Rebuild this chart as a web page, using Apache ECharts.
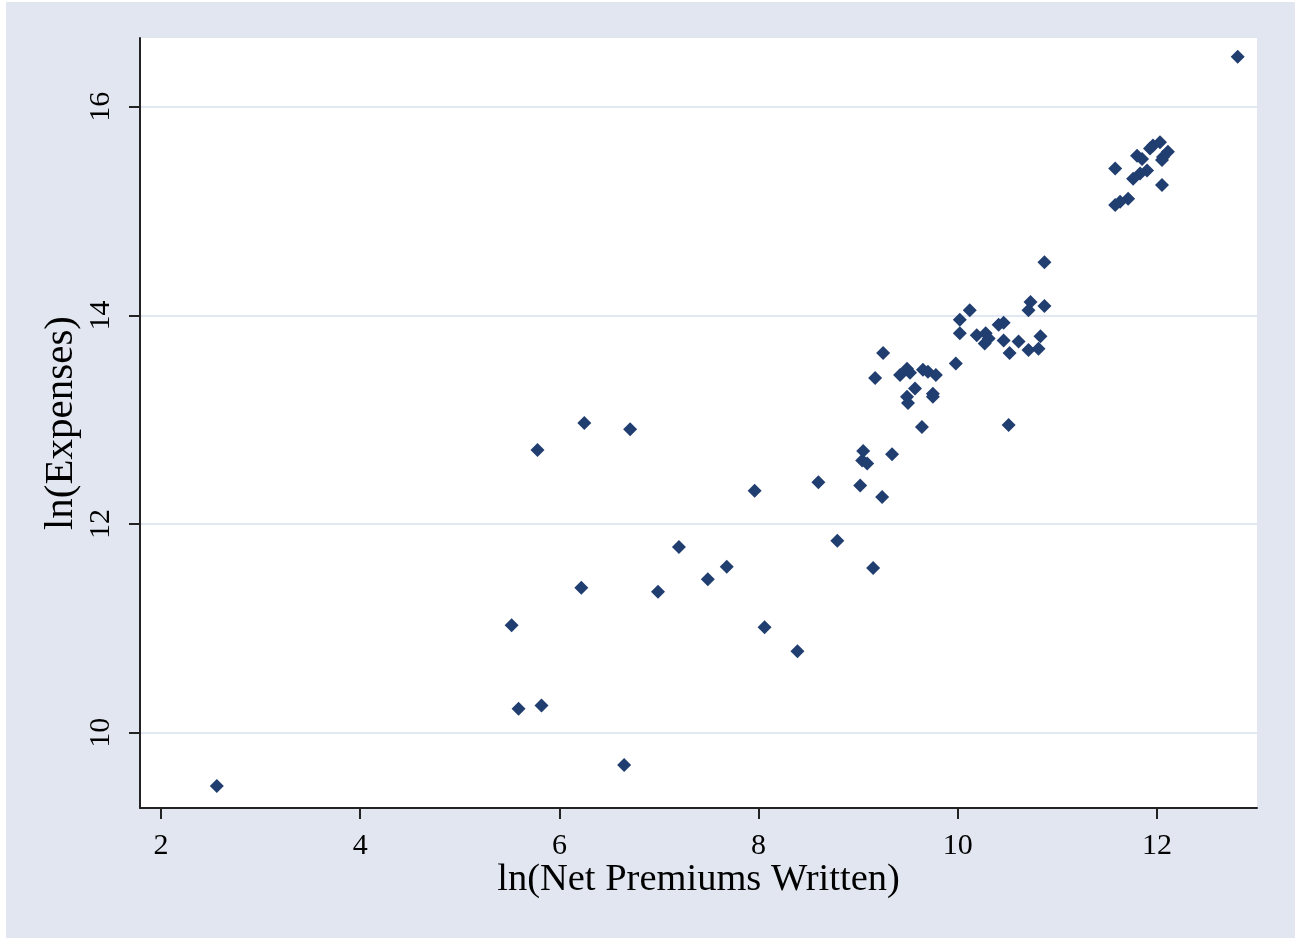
<!DOCTYPE html>
<html>
<head>
<meta charset="utf-8">
<script src="https://cdn.jsdelivr.net/npm/echarts@6/dist/echarts.min.js"></script>
<style>
  html, body { margin: 0; padding: 0; background: #ffffff; }
  #chart { position: absolute; left: 6px; top: 2px; width: 1289px; height: 936px; }
</style>
</head>
<body>
<div id="chart"></div>
<script>
// ln(Net Premiums Written)
const netPremiums = [
  2.56, 5.52, 5.59, 5.82, 5.78, 6.25, 6.22, 6.71, 6.65, 6.99,
  7.20, 7.49, 7.68, 7.96, 8.06, 8.39, 8.60, 8.79, 9.02, 9.05,
  9.04, 9.09, 9.34, 9.24, 9.15, 9.25, 9.17, 9.42, 9.49, 9.52,
  9.65, 9.70, 9.78, 9.57, 9.49, 9.50, 9.75, 9.75, 9.64, 9.98,
  10.02, 10.02, 10.12, 10.19, 10.28, 10.31, 10.27, 10.41, 10.46, 10.46,
  10.61, 10.52, 10.71, 10.81, 10.83, 10.73, 10.71, 10.87, 10.87, 10.51,
  11.58, 11.80, 11.85, 11.96, 12.03, 11.93, 12.11, 12.06, 12.05, 11.90,
  11.83, 11.76, 12.05, 11.71, 11.63, 11.58, 12.81
];
// ln(Expenses)
const expenses = [
  9.49, 11.03, 10.23, 10.26, 12.71, 12.97, 11.39, 12.91, 9.69, 11.35,
  11.78, 11.47, 11.59, 12.32, 11.01, 10.78, 12.40, 11.84, 12.37, 12.70,
  12.61, 12.58, 12.67, 12.26, 11.58, 13.64, 13.40, 13.43, 13.49, 13.45,
  13.48, 13.46, 13.43, 13.30, 13.22, 13.16, 13.25, 13.22, 12.93, 13.54,
  13.83, 13.96, 14.05, 13.81, 13.83, 13.78, 13.73, 13.91, 13.93, 13.76,
  13.75, 13.64, 13.67, 13.68, 13.80, 14.13, 14.05, 14.09, 14.51, 12.95,
  15.41, 15.53, 15.50, 15.63, 15.66, 15.60, 15.57, 15.52, 15.49, 15.39,
  15.36, 15.31, 15.25, 15.12, 15.09, 15.06, 16.48
];
const xTicks = [2, 4, 6, 8, 10, 12];
const yTicks = [10, 12, 14, 16];

const points = netPremiums.map((x, i) => [x, expenses[i]]);

const FONT = 'Liberation Serif';
const chart = echarts.init(document.getElementById('chart'), null, { renderer: 'canvas' });
chart.setOption({
  backgroundColor: '#e1e6f0',
  animation: false,
  grid: {
    left: 134, right: 38, top: 36, bottom: 130,
    show: true, backgroundColor: '#ffffff', borderWidth: 0
  },
  xAxis: {
    type: 'value',
    min: 1.789, max: 13.004,
    name: 'ln(Net Premiums Written)',
    nameLocation: 'middle',
    nameMoveOverlap: false,
    nameGap: 52,
    nameTextStyle: { fontFamily: FONT, fontSize: 38.5, color: '#000', verticalAlign: 'top' },
    axisLine: { show: true, onZero: false, lineStyle: { color: '#222', width: 2 } },
    axisTick: { show: true, inside: false, length: 11, customValues: xTicks, lineStyle: { color: '#222', width: 2 } },
    axisLabel: { customValues: xTicks, margin: 23, fontFamily: FONT, fontSize: 30, color: '#000' },
    splitLine: { show: false }
  },
  yAxis: {
    type: 'value',
    min: 9.278, max: 16.66,
    name: 'ln(Expenses)',
    nameLocation: 'middle',
    nameMoveOverlap: false,
    nameRotate: 90,
    nameGap: 58,
    nameTextStyle: { fontFamily: FONT, fontSize: 41, color: '#000', verticalAlign: 'bottom' },
    axisLine: { show: true, onZero: false, lineStyle: { color: '#222', width: 2 } },
    axisTick: { show: true, inside: false, length: 11, customValues: yTicks, lineStyle: { color: '#222', width: 2 } },
    axisLabel: { customValues: yTicks, rotate: 90, margin: 24, fontFamily: FONT, fontSize: 30, color: '#000' },
    splitLine: { show: true, lineStyle: { color: '#e2e8f2', width: 2 } }
  },
  series: [{
    type: 'scatter',
    data: points,
    symbol: 'diamond',
    symbolSize: 14,
    itemStyle: { color: '#213e70', opacity: 1 }
  }]
});
</script>
</body>
</html>
